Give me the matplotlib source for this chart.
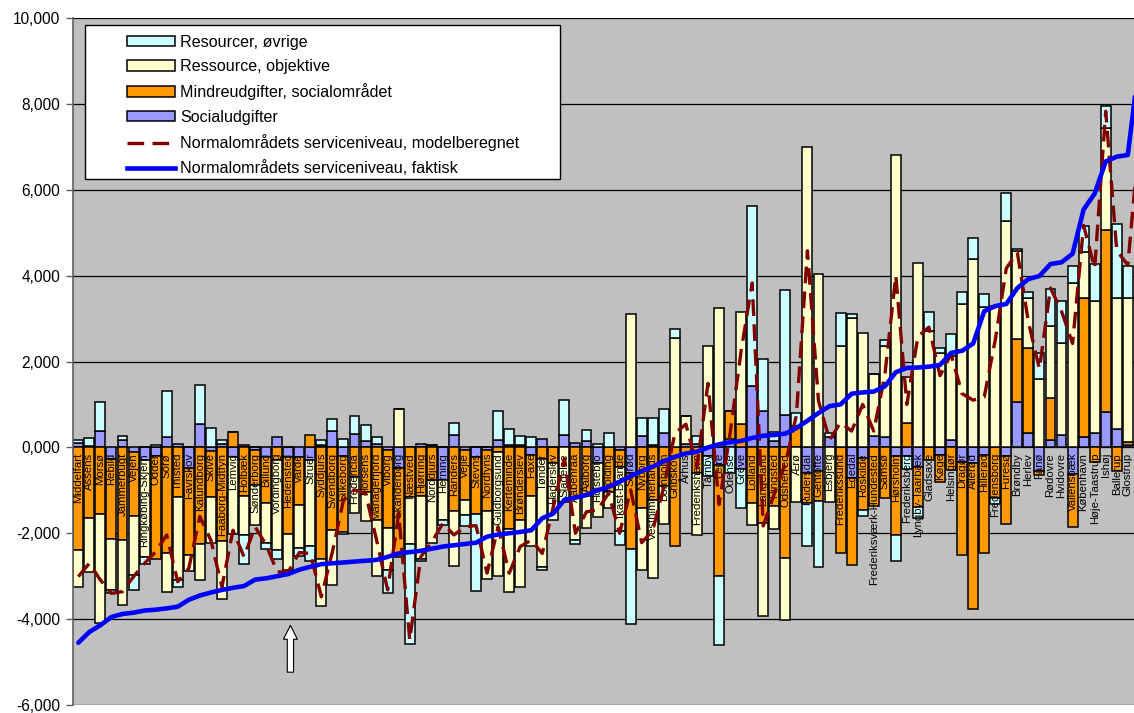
import numpy as np
import matplotlib.pyplot as plt
from matplotlib.patches import Patch, Rectangle
from matplotlib.lines import Line2D

plt.rcParams['font.family'] = ['Liberation Sans', 'DejaVu Sans']

kommuner = ['Middelfart', 'Assens', 'Morsø', 'Rebild', 'Jammerbugt', 'Vejen', 'Ringkøbing-Skjern', 'Odder',
            'Sorø', 'Thisted', 'Favrskov', 'Kalundborg', 'Skive', 'Faaborg-Midtfyn', 'Lemvig', 'Holbæk',
            'Sønderborg', 'Billund', 'Vordingborg', 'Hedensted', 'Varde', 'Struer', 'Syddjurs', 'Svendborg',
            'Silkeborg', 'Fredericia', 'Horsens', 'Mariagerfjord', 'Viborg', 'Skanderborg', 'Næstved',
            'Hjørring', 'Norddjurs', 'Herning', 'Randers', 'Vejle', 'Stevns', 'Nordfyns', 'Guldborgsund',
            'Kerteminde', 'Brønderslev', 'Faxe', 'Tønder', 'Haderslev', 'Slagelse', 'Aabenraa', 'Aalborg',
            'Holstebro', 'Kolding', 'Ikast-Brande', 'Solrød', 'Nyborg', 'Vesthimmerlands', 'Bornholm',
            'Gribskov', 'Århus', 'Frederikshavn', 'Tårnby', 'Lejre', 'Odense', 'Greve', 'Lolland',
            'Langeland', 'Ringsted', 'Odsherred', 'Ærø', 'Rudersdal', 'Gentofte', 'Esbjerg', 'Frederikssund',
            'Egedal', 'Roskilde', 'Frederiksværk-Hundested', 'Samsø', 'Hørsholm', 'Frederiksberg',
            'Lyngby-Taarbæk', 'Gladsaxe', 'Køge', 'Helsingør', 'Dragør', 'Allerød', 'Hillerød',
            'Fredensborg', 'Furesø', 'Brøndby', 'Herlev', 'Fanø', 'Rødovre', 'Hvidovre', 'Vallensbæk',
            'København', 'Høje-Taastrup', 'Ishøj', 'Ballerup', 'Glostrup', 'Albertslund']

socialudgifter = [100, 30, 380, -280, 170, -100, -300, -200, 230, 80, -490, 540, -80, 90, -220, 50,
                  -50, -230, 230, -220, -230, -300, 50, 380, -200, 310, 150, 70, -60, -470, 0,
                  90, 50, -750, 290, -60, -220, -50, 170, 50, 50, -180, 200, 0, 290, 110, 140,
                  -370, 0, -60, -600, 260, 50, 330, 0, 90, 80, -200, -400, 200, -500, 1420,
                  850, 140, 750, 0, -600, -540, 230, 0, -710, -250, 270, 250, -200, -200,
                  -460, 0, -170, 170, -330, -370, -180, 0, -210, 1060, 330, -540, 170, 280, -630,
                  250, 330, 830, 430, 60, 0]
mindreudgifter = [-2380, -1650, -1550, -1860, -2160, -1500, 0, -2400, -2450, -1150, -2020, -2250, -1070, -2180, 350, -1130,
                  -830, -1060, -300, -1800, -1110, 290, -2600, -1930, -1760, -700, -1030, -1680, -1820, -2080, -1150,
                  -1130, -760, 0, -1480, -1160, -1340, -1430, -100, -1890, -1690, -950, -260, -370, 0, -1150, -1130,
                  0, -1030, -400, -1770, -1420, -1230, -900, -2300, -150, -600, 0, -2600, 650, 540, -1290,
                  -1750, -1370, -2580, 500, -700, -710, 0, -2460, -2040, -1210, -1370, -1170, -1830, 560,
                  -920, -300, -640, -520, -2170, -3390, -2290, -1170, -1570, 1460, 1980, -110, 980, 0, -1220,
                  3230, -330, 4230, -540, 70, 0]
ressource_objektive = [-870, -1260, -2550, -1190, -1500, -1370, -2250, 0, -910, -1940, -360, -840, -1070, -1360, -1790, -910,
                       -930, -930, -2100, -840, -1000, -2000, -1090, -1270, -50, -840, -680, -1320, -970, 890, -1100,
                       -1470, -1460, -930, -1290, -360, 0, -1580, -2900, -1470, -1570, -1170, -2520, -1320, -1280, -1010, -750,
                       -1240, -390, -1480, 3100, -1440, -1810, -890, 2540, 640, -1430, 2370, 3240, 0, 2620, -520,
                       -2170, -530, -1430, -1280, 7000, 4040, -1270, 2370, 3020, 2670, 1430, 2120, 6800, 1070,
                       4300, 2720, 2200, 1960, 3350, 4390, 3270, 3290, 5270, 2050, 1160, 1600, 1680, 2160, 3830,
                       1080, 3080, 2380, 3050, 3360, 0]
resourcer_oevrige = [80, 190, 670, -70, 90, -350, -160, 50, 1090, -160, 0, 920, 460, 80, 0, -680,
                     0, -150, -200, 0, -190, -350, 120, 270, 200, 420, 360, 160, -540, 0, -2330,
                     -50, 0, -130, 270, -260, -1790, 0, 680, 370, 220, 250, -80, 0, 820, -80, 260,
                     70, 330, -330, -1740, 430, 640, 560, 210, 0, 190, -470, -1600, -600, -920, 4200,
                     1210, 220, 2920, 290, -1000, -1540, 100, 770, 80, -140, 0, 120, -610, -300,
                     -270, 440, 120, 520, 260, 480, 310, -140, 650, 60, 150, 590, 860, 960, 400,
                     590, 860, 520, 1730, 730, 0]
modelberegnet = [-3010, -2700, -3090, -3400, -3360, -3010, -2700, -2430, -2040, -3130, -2820, -1610, -2160, -3250, -1930, -2550,
                 -1850, -2270, -2900, -2900, -2450, -2470, -3480, -2430, -1230, -990, -1070, -2160, -3320, -1540, -4490,
                 -2550, -2200, -1770, -2040, -1850, -1820, -2930, -1850, -2930, -2310, -2160, -2470, -1380, -260, -2000, -1500,
                 -1460, -1070, -2000, -990, -2220, -1930, -920, 330, 540, -450, 1490, -1330, 330, 2250, 3830,
                 -1830, -1080, -380, 750, 4580, 1080, 170, 580, 380, 1000, 380, 1670, 4000, 1000,
                 2580, 2800, 1670, 2170, 1250, 1100, 1170, 2500, 4170, 4540, 2920, 1830, 3710, 3170, 2420,
                 5170, 4170, 7830, 4580, 4250, 7100]
faktisk = [-4550, -4300, -4140, -3950, -3880, -3850, -3800, -3780, -3750, -3710, -3550, -3450, -3380, -3320, -3270, -3230,
           -3080, -3050, -3000, -2950, -2850, -2780, -2720, -2700, -2680, -2660, -2640, -2620, -2550, -2470, -2440,
           -2410, -2360, -2310, -2280, -2250, -2220, -2080, -2030, -2000, -1970, -1930, -1650, -1540, -1220, -1170, -1110,
           -1000, -920, -800, -670, -550, -450, -320, -220, -140, -100, 0, 70, 120, 150, 220,
           270, 290, 320, 450, 620, 800, 960, 1000, 1250, 1280, 1300, 1420, 1750, 1850,
           1860, 1880, 1920, 2200, 2250, 2420, 3170, 3290, 3340, 3710, 3920, 3990, 4270, 4310, 4510,
           5540, 5910, 6660, 6770, 6810, 8900]

serier = ['Socialudgifter', 'Mindreudgifter, socialområdet', 'Ressource, objektive', 'Resourcer, øvrige']
farver = ['#9999FF', '#FF9900', '#FFFFCC', '#CCFFFF']
yticks = [-6000, -4000, -2000, 0, 2000, 4000, 6000, 8000, 10000]
ytick_labels = ['-6,000', '-4,000', '-2,000', '0,000', '2,000', '4,000', '6,000', '8,000', '10,000']

fig = plt.figure(figsize=(11.34, 7.13), dpi=100)
ax = fig.add_axes([73 / 1134, 8 / 713, 1061 / 1134, 687 / 713])
ax.set_facecolor('#C0C0C0')

x = np.arange(len(kommuner))
pos = np.zeros(len(kommuner))
neg = np.zeros(len(kommuner))
for vals, col in zip([socialudgifter, mindreudgifter, ressource_objektive, resourcer_oevrige], farver):
    v = np.array(vals, dtype=float)
    bottom = np.where(v >= 0, pos, neg)
    ax.bar(x, v, bottom=bottom, width=0.9, color=col, edgecolor='black', linewidth=1.1, zorder=2)
    pos += np.where(v >= 0, v, 0)
    neg += np.where(v < 0, v, 0)

ax.plot(x, modelberegnet, color='#800000', lw=2.4, dashes=(5, 2.5), zorder=5)
ax.plot(x, faktisk, color='#0000FF', lw=3.3, zorder=6, solid_capstyle='round')

for i, navn in enumerate(kommuner):
    ax.annotate(navn, (i, 0), xytext=(0, -4), textcoords='offset points', rotation=90,
                ha='center', va='top', fontsize=8.2, zorder=4, annotation_clip=True)

# pil under Vordingborg/Hedensted
ax.annotate('', xy=(19.2, -4080), xytext=(19.2, -5300),
            arrowprops=dict(arrowstyle='simple,head_length=1.0,head_width=1.0,tail_width=0.45',
                            fc='white', ec='black', lw=0.8), zorder=7)

ax.set_xlim(-0.48, 95.56)
ax.set_ylim(-6000, 10000)
ax.set_yticks(yticks)
ax.set_yticklabels(ytick_labels, fontsize=11.2)
ax.tick_params(axis='y', length=5, width=1, color='#606060', pad=4)
ax.set_xticks([])
ax.yaxis.grid(True, color='black', lw=0.9)
ax.set_axisbelow(True)
for s in ['top', 'right', 'bottom']:
    ax.spines[s].set_visible(False)
ax.spines['left'].set_color('#606060')
ax.spines['left'].set_linewidth(1.2)

# legend box
ax.add_patch(Rectangle((0.0113, 0.765), 0.448, 0.225, transform=ax.transAxes, facecolor='white',
                       edgecolor='black', lw=1, zorder=8))
handles = [Patch(facecolor=farver[3], edgecolor='black', lw=1.1),
           Patch(facecolor=farver[2], edgecolor='black', lw=1.1),
           Patch(facecolor=farver[1], edgecolor='black', lw=1.1),
           Patch(facecolor=farver[0], edgecolor='black', lw=1.1),
           Line2D([], [], color='#800000', lw=2.4, dashes=(5, 2.5)),
           Line2D([], [], color='#0000FF', lw=3.3)]
labels = ['Resourcer, øvrige', 'Ressource, objektive', 'Mindreudgifter, socialområdet', 'Socialudgifter',
          'Normalområdets serviceniveau, modelberegnet', 'Normalområdets serviceniveau, faktisk']
leg = ax.legend(handles, labels, loc='upper left', bbox_to_anchor=(0.040, 0.992), frameon=False,
                fontsize=11.6, handlelength=3.0, handleheight=0.65, handletextpad=0.3, labelspacing=0.58,
                borderpad=0.2)
leg.set_zorder(9)

fig.savefig('out.png', dpi=100)
